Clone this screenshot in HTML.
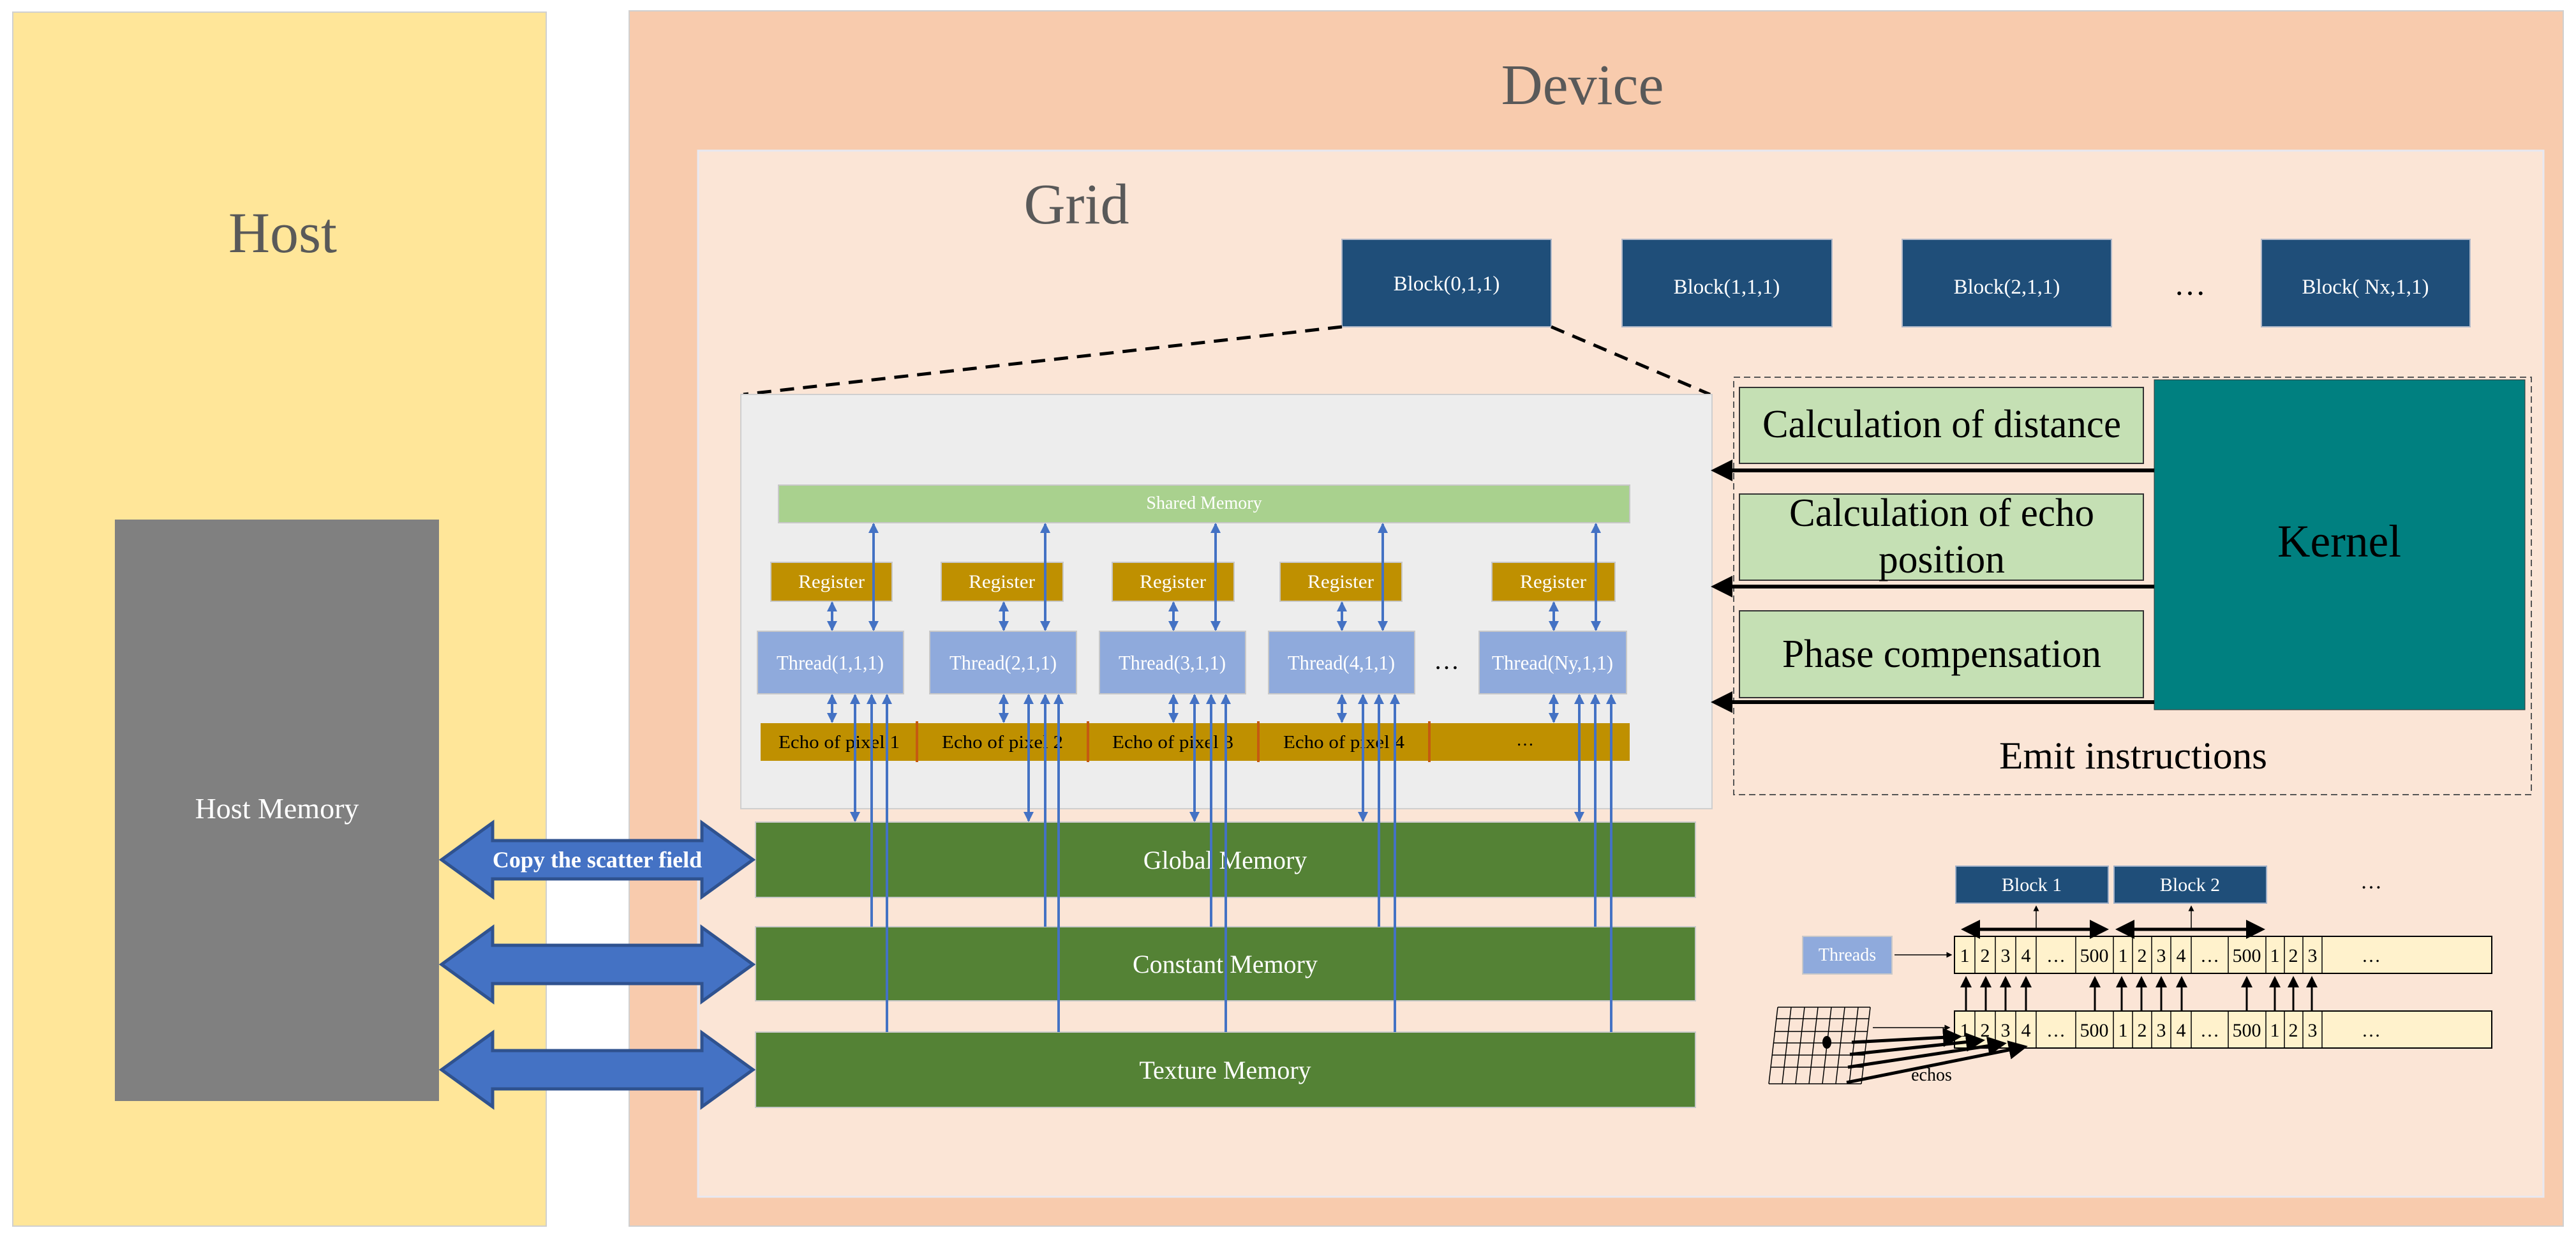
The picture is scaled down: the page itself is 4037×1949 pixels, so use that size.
<!DOCTYPE html>
<html><head><meta charset="utf-8"><style>
html,body{margin:0;padding:0;background:#fff;}
svg{display:block;}
text{font-family:"Liberation Serif",serif;}
</style></head><body>
<svg width="4037" height="1949" viewBox="0 0 4037 1949" xmlns="http://www.w3.org/2000/svg">
<defs>
<marker id="bh" markerWidth="4" markerHeight="4" refX="3.5" refY="2" orient="auto-start-reverse" markerUnits="strokeWidth"><path d="M0,0 L4,2 L0,4 Z" fill="#4472C4"/></marker>
<marker id="kb" markerWidth="6" markerHeight="6" refX="5" refY="3" orient="auto-start-reverse" markerUnits="strokeWidth"><path d="M0,0 L6,3 L0,6 Z" fill="#000"/></marker>
</defs>
<rect x="20" y="19" width="836" height="1902" fill="#FFE699" stroke="#d0d0d0" stroke-width="2"/>
<text x="443" y="395" font-size="90" fill="#595959" text-anchor="middle">Host</text>
<rect x="180" y="814" width="508" height="911" fill="#808080"/>
<text x="434" y="1282" font-size="46" fill="#fff" text-anchor="middle">Host Memory</text>
<rect x="986" y="17" width="3031" height="1904" fill="#F8CBAD" stroke="#d0d0d0" stroke-width="2"/>
<text x="2480" y="163" font-size="90" fill="#595959" text-anchor="middle">Device</text>
<rect x="1094" y="236" width="2892" height="1639" fill="#FBE5D6" stroke="#e8e8f0" stroke-width="3"/>
<text x="1687" y="350" font-size="90" fill="#595959" text-anchor="middle">Grid</text>
<g fill="#1F4E79" stroke="#b0b8c8" stroke-width="2">
<rect x="2103" y="375" width="328" height="137"/>
<rect x="2542" y="375" width="329" height="137"/>
<rect x="2981" y="375" width="328" height="137"/>
<rect x="3544" y="375" width="327" height="137"/>
</g>
<g font-size="33" fill="#fff" text-anchor="middle">
<text x="2267" y="455">Block(0,1,1)</text>
<text x="2706" y="460">Block(1,1,1)</text>
<text x="3145" y="460">Block(2,1,1)</text>
<text x="3707" y="460">Block( Nx,1,1)</text>
</g>
<text x="3432" y="462" font-size="50" text-anchor="middle" fill="#000">…</text>
<line x1="2103" y1="512" x2="1165" y2="618" stroke="#000" stroke-width="5" stroke-dasharray="22,14"/>
<line x1="2431" y1="512" x2="2680" y2="618" stroke="#000" stroke-width="5" stroke-dasharray="22,14"/>
<rect x="1161" y="618" width="1522" height="649" fill="#EDEDED" stroke="#cfcfcf" stroke-width="2"/>
<rect x="1220" y="760" width="1334" height="59" fill="#A9D18E" stroke="#c8c8c8" stroke-width="2"/>
<text x="1887" y="797" font-size="28" fill="#fff" text-anchor="middle">Shared Memory</text>
<g fill="#BF9000" stroke="#c8c8c8" stroke-width="2">
<rect x="1208" y="881" width="190" height="61"/>
<rect x="1475" y="881" width="191" height="61"/>
<rect x="1743" y="881" width="191" height="61"/>
<rect x="2006" y="881" width="191" height="61"/>
<rect x="2338" y="881" width="193" height="61"/>
</g>
<g font-size="30" fill="#fff" text-anchor="middle">
<text x="1303" y="921" textLength="104" lengthAdjust="spacingAndGlyphs">Register</text><text x="1570" y="921" textLength="104" lengthAdjust="spacingAndGlyphs">Register</text><text x="1838" y="921" textLength="104" lengthAdjust="spacingAndGlyphs">Register</text><text x="2101" y="921" textLength="104" lengthAdjust="spacingAndGlyphs">Register</text><text x="2434" y="921" textLength="104" lengthAdjust="spacingAndGlyphs">Register</text>
</g>
<g fill="#8FAADC" stroke="#c8c8c8" stroke-width="2">
<rect x="1187" y="989" width="229" height="98"/>
<rect x="1457" y="989" width="230" height="98"/>
<rect x="1723" y="989" width="229" height="98"/>
<rect x="1988" y="989" width="229" height="98"/>
<rect x="2318" y="989" width="231" height="98"/>
</g>
<g font-size="32" fill="#fff" text-anchor="middle">
<text x="1301" y="1049" textLength="168" lengthAdjust="spacingAndGlyphs">Thread(1,1,1)</text><text x="1572" y="1049" textLength="168" lengthAdjust="spacingAndGlyphs">Thread(2,1,1)</text><text x="1837" y="1049" textLength="168" lengthAdjust="spacingAndGlyphs">Thread(3,1,1)</text><text x="2102" y="1049" textLength="168" lengthAdjust="spacingAndGlyphs">Thread(4,1,1)</text><text x="2433" y="1049" textLength="190" lengthAdjust="spacingAndGlyphs">Thread(Ny,1,1)</text>
</g>
<text x="2267" y="1048" font-size="40" text-anchor="middle">…</text>
<rect x="1192" y="1133" width="1362" height="59" fill="#BF9000"/>
<g stroke="#C55A11" stroke-width="4">
<line x1="1437" y1="1130" x2="1437" y2="1194"/><line x1="1705" y1="1130" x2="1705" y2="1194"/><line x1="1972" y1="1130" x2="1972" y2="1194"/><line x1="2240" y1="1130" x2="2240" y2="1194"/>
</g>
<g font-size="28" fill="#000" text-anchor="middle">
<text x="1315" y="1172" textLength="190" lengthAdjust="spacingAndGlyphs">Echo of pixel 1</text><text x="1571" y="1172" textLength="190" lengthAdjust="spacingAndGlyphs">Echo of pixel 2</text><text x="1838" y="1172" textLength="190" lengthAdjust="spacingAndGlyphs">Echo of pixel 3</text><text x="2106" y="1172" textLength="190" lengthAdjust="spacingAndGlyphs">Echo of pixel 4</text><text x="2390" y="1168">…</text>
</g>
<g fill="#548235" stroke="#c8c8c8" stroke-width="2">
<rect x="1184" y="1288" width="1473" height="118"/>
<rect x="1184" y="1452" width="1473" height="116"/>
<rect x="1184" y="1617" width="1473" height="118"/>
</g>
<g font-size="40" fill="#fff" text-anchor="middle">
<text x="1920" y="1361">Global Memory</text><text x="1920" y="1524">Constant Memory</text><text x="1920" y="1690">Texture Memory</text>
</g>
<g stroke="#4472C4" stroke-width="4" fill="none">
<line x1="1369" y1="821" x2="1369" y2="987" marker-start="url(#bh)" marker-end="url(#bh)"/>
<line x1="1638" y1="821" x2="1638" y2="987" marker-start="url(#bh)" marker-end="url(#bh)"/>
<line x1="1905" y1="821" x2="1905" y2="987" marker-start="url(#bh)" marker-end="url(#bh)"/>
<line x1="2167" y1="821" x2="2167" y2="987" marker-start="url(#bh)" marker-end="url(#bh)"/>
<line x1="2501" y1="821" x2="2501" y2="987" marker-start="url(#bh)" marker-end="url(#bh)"/>
<line x1="1304" y1="944" x2="1304" y2="987" marker-start="url(#bh)" marker-end="url(#bh)"/>
<line x1="1573" y1="944" x2="1573" y2="987" marker-start="url(#bh)" marker-end="url(#bh)"/>
<line x1="1839" y1="944" x2="1839" y2="987" marker-start="url(#bh)" marker-end="url(#bh)"/>
<line x1="2103" y1="944" x2="2103" y2="987" marker-start="url(#bh)" marker-end="url(#bh)"/>
<line x1="2435" y1="944" x2="2435" y2="987" marker-start="url(#bh)" marker-end="url(#bh)"/>
<line x1="1304" y1="1089" x2="1304" y2="1131" marker-start="url(#bh)" marker-end="url(#bh)"/>
<line x1="1573" y1="1089" x2="1573" y2="1131" marker-start="url(#bh)" marker-end="url(#bh)"/>
<line x1="1839" y1="1089" x2="1839" y2="1131" marker-start="url(#bh)" marker-end="url(#bh)"/>
<line x1="2103" y1="1089" x2="2103" y2="1131" marker-start="url(#bh)" marker-end="url(#bh)"/>
<line x1="2435" y1="1089" x2="2435" y2="1131" marker-start="url(#bh)" marker-end="url(#bh)"/>
<line x1="1340" y1="1089" x2="1340" y2="1286" marker-start="url(#bh)" marker-end="url(#bh)"/>
<line x1="1366" y1="1089" x2="1366" y2="1452" marker-start="url(#bh)"/>
<line x1="1390" y1="1089" x2="1390" y2="1617" marker-start="url(#bh)"/>
<line x1="1612" y1="1089" x2="1612" y2="1286" marker-start="url(#bh)" marker-end="url(#bh)"/>
<line x1="1638" y1="1089" x2="1638" y2="1452" marker-start="url(#bh)"/>
<line x1="1659" y1="1089" x2="1659" y2="1617" marker-start="url(#bh)"/>
<line x1="1872" y1="1089" x2="1872" y2="1286" marker-start="url(#bh)" marker-end="url(#bh)"/>
<line x1="1898" y1="1089" x2="1898" y2="1452" marker-start="url(#bh)"/>
<line x1="1921" y1="1089" x2="1921" y2="1617" marker-start="url(#bh)"/>
<line x1="2136" y1="1089" x2="2136" y2="1286" marker-start="url(#bh)" marker-end="url(#bh)"/>
<line x1="2161" y1="1089" x2="2161" y2="1452" marker-start="url(#bh)"/>
<line x1="2186" y1="1089" x2="2186" y2="1617" marker-start="url(#bh)"/>
<line x1="2475" y1="1089" x2="2475" y2="1286" marker-start="url(#bh)" marker-end="url(#bh)"/>
<line x1="2500" y1="1089" x2="2500" y2="1452" marker-start="url(#bh)"/>
<line x1="2525" y1="1089" x2="2525" y2="1617" marker-start="url(#bh)"/>
</g>
<g fill="#4472C4" stroke="#2F528F" stroke-width="5">
<path d="M692,1347 L772,1289 L772,1317 L1100,1317 L1100,1289 L1180,1347 L1100,1405 L1100,1377 L772,1377 L772,1405 Z"/>
<path d="M692,1511 L772,1453 L772,1481 L1100,1481 L1100,1453 L1180,1511 L1100,1569 L1100,1541 L772,1541 L772,1569 Z"/>
<path d="M692,1676 L772,1618 L772,1646 L1100,1646 L1100,1618 L1180,1676 L1100,1734 L1100,1706 L772,1706 L772,1734 Z"/>
</g>
<text x="936" y="1359" font-size="36" font-weight="bold" fill="#fff" text-anchor="middle">Copy the scatter field</text>
<rect x="2717" y="591" width="1250" height="654" fill="none" stroke="#555" stroke-width="2" stroke-dasharray="10,6"/>
<g fill="#C5E0B4" stroke="#333" stroke-width="2">
<rect x="2726" y="607" width="633" height="119"/>
<rect x="2726" y="774" width="633" height="135"/>
<rect x="2726" y="957" width="633" height="136"/>
</g>
<rect x="3376" y="595" width="581" height="517" fill="#008080" stroke="#333" stroke-width="1"/>
<g font-size="62" fill="#000" text-anchor="middle">
<text x="3043" y="685" textLength="562" lengthAdjust="spacingAndGlyphs">Calculation of distance</text>
<text x="3043" y="824" textLength="478" lengthAdjust="spacingAndGlyphs">Calculation of echo</text>
<text x="3043" y="897" textLength="198" lengthAdjust="spacingAndGlyphs">position</text>
<text x="3043" y="1045" textLength="500" lengthAdjust="spacingAndGlyphs">Phase compensation</text>
<text x="3666" y="872" font-size="72" textLength="194" lengthAdjust="spacingAndGlyphs">Kernel</text>
<text x="3343" y="1204" font-size="60" textLength="420" lengthAdjust="spacingAndGlyphs">Emit instructions</text>
</g>
<g stroke="#000" stroke-width="6">
<line x1="3376" y1="737" x2="2700" y2="737"/><line x1="3376" y1="919" x2="2700" y2="919"/><line x1="3376" y1="1100" x2="2700" y2="1100"/>
</g>
<g fill="#000">
<path d="M2681,737 L2715,720 L2715,754 Z"/><path d="M2681,919 L2715,902 L2715,936 Z"/><path d="M2681,1100 L2715,1083 L2715,1117 Z"/>
</g>
<g fill="#1F4E79" stroke="#a0b0c8" stroke-width="2">
<rect x="3065" y="1357" width="239" height="58"/><rect x="3313" y="1357" width="239" height="58"/>
</g>
<g font-size="30" fill="#fff" text-anchor="middle"><text x="3184" y="1396">Block 1</text><text x="3432" y="1396">Block 2</text></g>
<text x="3716" y="1392" font-size="34" text-anchor="middle">…</text>
<rect x="2825" y="1467" width="140" height="59" fill="#8FAADC" stroke="#c8c8c8" stroke-width="2"/>
<text x="2895" y="1505" font-size="28" fill="#fff" text-anchor="middle">Threads</text>
<g fill="#FFF2CC" stroke="#000" stroke-width="2">
<rect x="3063" y="1467" width="842" height="58"/><rect x="3063" y="1584" width="842" height="58"/>
</g>
<g stroke="#000" stroke-width="1.5">
<path d="M3095,1467V1525M3127,1467V1525M3159,1467V1525M3191,1467V1525M3253,1467V1525M3312,1467V1525M3342,1467V1525M3372,1467V1525M3402,1467V1525M3434,1467V1525M3492,1467V1525M3551,1467V1525M3580,1467V1525M3609,1467V1525M3639,1467V1525"/>
<path d="M3095,1584V1642M3127,1584V1642M3159,1584V1642M3191,1584V1642M3253,1584V1642M3312,1584V1642M3342,1584V1642M3372,1584V1642M3402,1584V1642M3434,1584V1642M3492,1584V1642M3551,1584V1642M3580,1584V1642M3609,1584V1642M3639,1584V1642"/>
</g>
<g font-size="30" text-anchor="middle" fill="#000">
<text x="3079" y="1507">1</text><text x="3111" y="1507">2</text><text x="3143" y="1507">3</text><text x="3175" y="1507">4</text><text x="3222" y="1507">…</text><text x="3282" y="1507">500</text><text x="3327" y="1507">1</text><text x="3357" y="1507">2</text><text x="3387" y="1507">3</text><text x="3418" y="1507">4</text><text x="3463" y="1507">…</text><text x="3521" y="1507">500</text><text x="3565" y="1507">1</text><text x="3594" y="1507">2</text><text x="3624" y="1507">3</text><text x="3716" y="1507">…</text>
<text x="3079" y="1624">1</text><text x="3111" y="1624">2</text><text x="3143" y="1624">3</text><text x="3175" y="1624">4</text><text x="3222" y="1624">…</text><text x="3282" y="1624">500</text><text x="3327" y="1624">1</text><text x="3357" y="1624">2</text><text x="3387" y="1624">3</text><text x="3418" y="1624">4</text><text x="3463" y="1624">…</text><text x="3521" y="1624">500</text><text x="3565" y="1624">1</text><text x="3594" y="1624">2</text><text x="3624" y="1624">3</text><text x="3716" y="1624">…</text>
</g>
<g stroke="#000" stroke-width="3" fill="none">
<line x1="3081" y1="1583" x2="3081" y2="1532" marker-end="url(#kb)"/><line x1="3112" y1="1583" x2="3112" y2="1532" marker-end="url(#kb)"/><line x1="3143" y1="1583" x2="3143" y2="1532" marker-end="url(#kb)"/><line x1="3175" y1="1583" x2="3175" y2="1532" marker-end="url(#kb)"/><line x1="3283" y1="1583" x2="3283" y2="1532" marker-end="url(#kb)"/><line x1="3325" y1="1583" x2="3325" y2="1532" marker-end="url(#kb)"/><line x1="3356" y1="1583" x2="3356" y2="1532" marker-end="url(#kb)"/><line x1="3387" y1="1583" x2="3387" y2="1532" marker-end="url(#kb)"/><line x1="3419" y1="1583" x2="3419" y2="1532" marker-end="url(#kb)"/><line x1="3521" y1="1583" x2="3521" y2="1532" marker-end="url(#kb)"/><line x1="3565" y1="1583" x2="3565" y2="1532" marker-end="url(#kb)"/><line x1="3594" y1="1583" x2="3594" y2="1532" marker-end="url(#kb)"/><line x1="3623" y1="1583" x2="3623" y2="1532" marker-end="url(#kb)"/>
</g>
<g stroke="#000" stroke-width="5" fill="none">
<line x1="3078" y1="1456" x2="3300" y2="1456" marker-start="url(#kb)" marker-end="url(#kb)"/>
<line x1="3320" y1="1456" x2="3545" y2="1456" marker-start="url(#kb)" marker-end="url(#kb)"/>
</g>
<g stroke="#000" stroke-width="1.5" fill="none">
<line x1="3191" y1="1456" x2="3191" y2="1420" marker-end="url(#kb)"/>
<line x1="3434" y1="1456" x2="3434" y2="1420" marker-end="url(#kb)"/>
<line x1="2969" y1="1496" x2="3058" y2="1496" marker-end="url(#kb)"/>
<line x1="2935" y1="1610" x2="3055" y2="1610" marker-end="url(#kb)"/>
</g>
<g stroke="#000" stroke-width="1.5" fill="none">
<path d="M2786,1578 L2931,1578 M2784,1596 L2929,1596 M2782,1616 L2927,1616 M2780,1634 L2925,1634 M2777,1653 L2922,1653 M2775,1672 L2920,1672 M2772,1698 L2917,1698"/>
<path d="M2786,1578 L2772,1698 M2807,1578 L2793,1698 M2828,1578 L2814,1698 M2849,1578 L2835,1698 M2870,1578 L2856,1698 M2891,1578 L2877,1698 M2912,1578 L2898,1698 M2931,1578 L2917,1698"/>
</g>
<ellipse cx="2863" cy="1633" rx="7" ry="10" fill="#000"/>
<g stroke="#000" stroke-width="5" fill="none">
<line x1="2902" y1="1633" x2="3070" y2="1624" marker-end="url(#kb)"/>
<line x1="2899" y1="1652" x2="3106" y2="1630" marker-end="url(#kb)"/>
<line x1="2896" y1="1672" x2="3140" y2="1635" marker-end="url(#kb)"/>
<line x1="2894" y1="1696" x2="3173" y2="1640" marker-end="url(#kb)"/>
</g>
<text x="3027" y="1693" font-size="28" text-anchor="middle">echos</text>
</svg>
</body></html>
